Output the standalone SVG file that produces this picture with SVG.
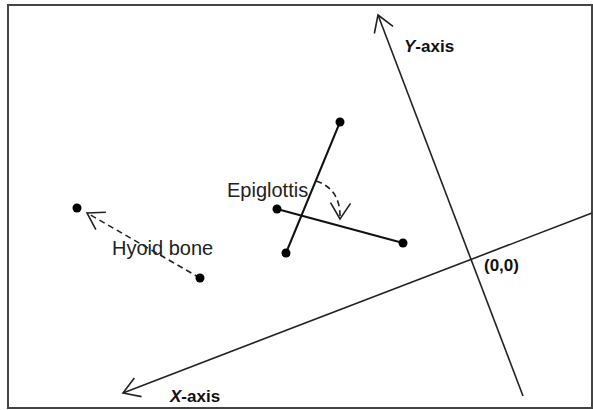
<svg xmlns="http://www.w3.org/2000/svg" width="593" height="410" viewBox="0 0 593 410">
<style>
.frame{fill:#fff;stroke:#444;stroke-width:2}
.axis{fill:none;stroke:#222;stroke-width:1.6}
.seg{fill:none;stroke:#111;stroke-width:2}
.dash{fill:none;stroke:#222;stroke-width:1.6;stroke-dasharray:6 4}
.dot{fill:#000}
.lbl{font-family:"Liberation Sans",Arial,sans-serif;font-size:20px;fill:#222}
.bold{font-family:"Liberation Sans",Arial,sans-serif;font-size:17px;font-weight:bold;fill:#111}
</style>
<defs>
<marker id="open" markerUnits="userSpaceOnUse" viewBox="-20 -12 24 24" refX="0" refY="0" markerWidth="24" markerHeight="24" orient="auto">
<path d="M-16,-10 L0,0 L-16,10" fill="none" stroke="#222" stroke-width="1.6"/>
</marker>
</defs>
<rect class="frame" x="8" y="5" width="584" height="403"/>
<g id="connectors">
<path id="y-axis" class="axis" d="M523,396 L378,15" marker-end="url(#open)"/>
<path id="x-axis" class="axis" d="M592,213 L123,393" marker-end="url(#open)"/>
<path id="epi-rotation" class="dash" d="M316,181 Q341,189 340,219" marker-end="url(#open)"/>
<path id="hyoid-motion" class="dash" d="M200,278 L87,213" marker-end="url(#open)"/>
</g>
<g id="epiglottis">
<line class="seg" x1="340" y1="122" x2="286" y2="253"/>
<line class="seg" x1="277" y1="209" x2="403" y2="243"/>
<circle class="dot" cx="340" cy="122" r="4.5"/>
<circle class="dot" cx="286" cy="253" r="4.5"/>
<circle class="dot" cx="277" cy="209" r="4.5"/>
<circle class="dot" cx="403" cy="243" r="4.5"/>
<text class="lbl" x="227" y="197">Epiglottis</text>
</g>
<g id="hyoid">
<circle class="dot" cx="77" cy="208" r="4.5"/>
<circle class="dot" cx="200" cy="278" r="4.5"/>
<text class="lbl" x="112" y="255">Hyoid bone</text>
</g>
<g id="labels">
<text class="bold" x="404" y="52"><tspan font-style="italic">Y</tspan>-axis</text>
<text class="bold" x="170" y="402"><tspan font-style="italic">X</tspan>-axis</text>
<text class="bold" x="484" y="271">(0,0)</text>
</g>
</svg>
